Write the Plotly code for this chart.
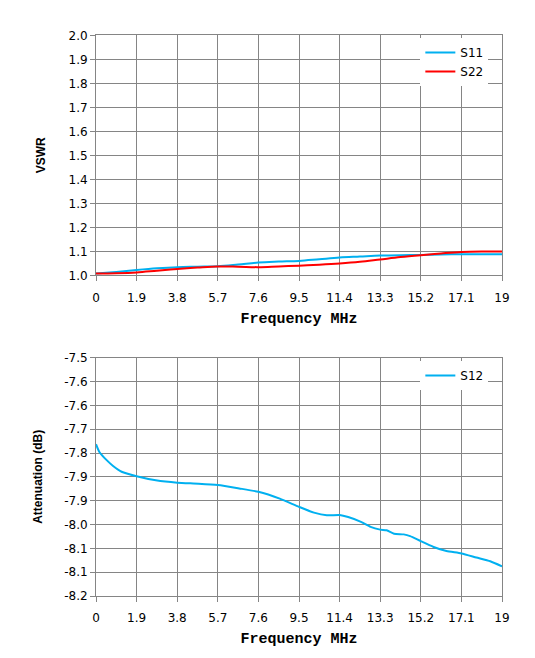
import plotly.graph_objects as go
from plotly.subplots import make_subplots

# frequency axis (MHz)
x_ticks = [0, 1.9, 3.8, 5.7, 7.6, 9.5, 11.4, 13.3, 15.2, 17.1, 19]
x_ticktext = ["0", "1.9", "3.8", "5.7", "7.6", "9.5", "11.4", "13.3", "15.2", "17.1", "19"]

# VSWR panel
freq_vswr = [0, 0.95, 1.9, 2.85, 3.8, 4.75, 5.7, 6.65, 7.6, 8.55, 9.5,
             10.45, 11.4, 12.35, 13.3, 14.25, 15.2, 16.15, 17.1, 18.05, 19]
s11 = [1.007, 1.014, 1.022, 1.029, 1.034, 1.036, 1.038, 1.045, 1.053, 1.057, 1.060,
       1.067, 1.074, 1.078, 1.082, 1.084, 1.085, 1.087, 1.088, 1.088, 1.088]
s22 = [1.008, 1.009, 1.012, 1.019, 1.026, 1.032, 1.037, 1.036, 1.034, 1.037, 1.040,
       1.044, 1.049, 1.056, 1.066, 1.076, 1.084, 1.091, 1.097, 1.099, 1.099]
vswr_ticks = [1.0, 1.1, 1.2, 1.3, 1.4, 1.5, 1.6, 1.7, 1.8, 1.9, 2.0]
vswr_ticktext = ["1.0", "1.1", "1.2", "1.3", "1.4", "1.5", "1.6", "1.7", "1.8", "1.9", "2.0"]

# attenuation panel
freq_s12 = [0, 0.15, 0.5, 0.8, 1.2, 1.9, 2.8, 3.8, 4.8, 5.7, 6.7, 7.6, 8.6, 9.5,
            10.2, 10.8, 11.4, 11.8, 12.4, 12.85, 13.3, 13.6, 13.95, 14.4, 14.7,
            15.2, 15.8, 16.4, 17.1, 17.8, 18.45, 19]
s12 = [-7.754, -7.776, -7.801, -7.818, -7.835, -7.848, -7.860, -7.867, -7.870,
       -7.874, -7.884, -7.894, -7.914, -7.938, -7.955, -7.963, -7.962, -7.968,
       -7.982, -7.997, -8.005, -8.007, -8.017, -8.019, -8.024, -8.039, -8.056,
       -8.068, -8.075, -8.087, -8.098, -8.113]
att_ticks = [-7.5, -7.57, -7.64, -7.71, -7.78, -7.85, -7.92, -7.99, -8.06, -8.13, -8.2]
att_ticktext = ["-7.5", "-7.6", "-7.6", "-7.7", "-7.8", "-7.9", "-7.9", "-8.0", "-8.1", "-8.1", "-8.2"]

BLUE = "#00b0f0"
RED = "#ff0000"
GRID = "#858585"

# the page body has an 8px margin, so the figure is drawn 8px smaller
# and every screen position below is shifted by that offset
OFF = 8
W, H = 535 - OFF, 658 - OFF

fig = make_subplots(rows=2, cols=1)

fig.add_trace(go.Scatter(x=freq_vswr, y=s11, name="S11", mode="lines",
                         line=dict(color=BLUE, width=2, shape="spline"),
                         legend="legend"), row=1, col=1)
fig.add_trace(go.Scatter(x=freq_vswr, y=s22, name="S22", mode="lines",
                         line=dict(color=RED, width=2, shape="spline"),
                         legend="legend"), row=1, col=1)
fig.add_trace(go.Scatter(x=freq_s12, y=s12, name="S12", mode="lines",
                         line=dict(color=BLUE, width=2, shape="spline", smoothing=0.6),
                         legend="legend2"), row=2, col=1)

axis_common = dict(
    showgrid=True, gridcolor=GRID, gridwidth=1,
    showline=True, linecolor=GRID, linewidth=1, mirror=True,
    ticks="outside", ticklen=5, tickcolor=GRID,
    zeroline=False, automargin=False,
    tickfont=dict(family="DejaVu Sans", size=12, color="black"),
)
xtitle = dict(text="<b>Frequency MHz</b>",
              font=dict(family="Liberation Mono", size=15, color="black"),
              standoff=8)


def ypos(px):
    # screen pixel row -> paper fraction
    return 1 - (px - OFF) / H


top_dom = [ypos(275.3), ypos(35.3)]
bot_dom = [ypos(596), ypos(357.7)]

fig.update_layout(
    width=W, height=H,
    margin=dict(l=96 - OFF, r=535 - 502, t=0, b=0),
    paper_bgcolor="white", plot_bgcolor="white",
    showlegend=True,
    xaxis=dict(axis_common, domain=[0, 1], range=[0, 19], tickmode="array",
               tickvals=x_ticks, ticktext=x_ticktext, title=xtitle, ticklabelstandoff=6),
    yaxis=dict(axis_common, domain=top_dom, range=[1.0, 2.0], tickmode="array",
               tickvals=vswr_ticks, ticktext=vswr_ticktext,
               title=dict(text="<b>VSWR</b>",
                          font=dict(family="Liberation Sans", size=12, color="black"),
                          standoff=20)),
    xaxis2=dict(axis_common, domain=[0, 1], range=[0, 19], tickmode="array",
                tickvals=x_ticks, ticktext=x_ticktext, title=xtitle, ticklabelstandoff=6),
    yaxis2=dict(axis_common, domain=bot_dom, range=[-8.2, -7.5], tickmode="array",
                tickvals=att_ticks, ticktext=att_ticktext,
                title=dict(text="<b>Attenuation (dB)</b>",
                           font=dict(family="Liberation Sans", size=12, color="black"),
                           standoff=18)),
    legend=dict(x=(429 - OFF) / W, y=ypos(38), xref="paper", yref="paper",
                xanchor="left", yanchor="top", bgcolor="white", borderwidth=0,
                tracegroupgap=0,
                font=dict(family="DejaVu Sans", size=12, color="black")),
    legend2=dict(x=(429 - OFF) / W, y=ypos(361), xref="paper", yref="paper",
                 xanchor="left", yanchor="top", bgcolor="white", borderwidth=0,
                 font=dict(family="DejaVu Sans", size=12, color="black")),
)

fig.write_html("out.html")
